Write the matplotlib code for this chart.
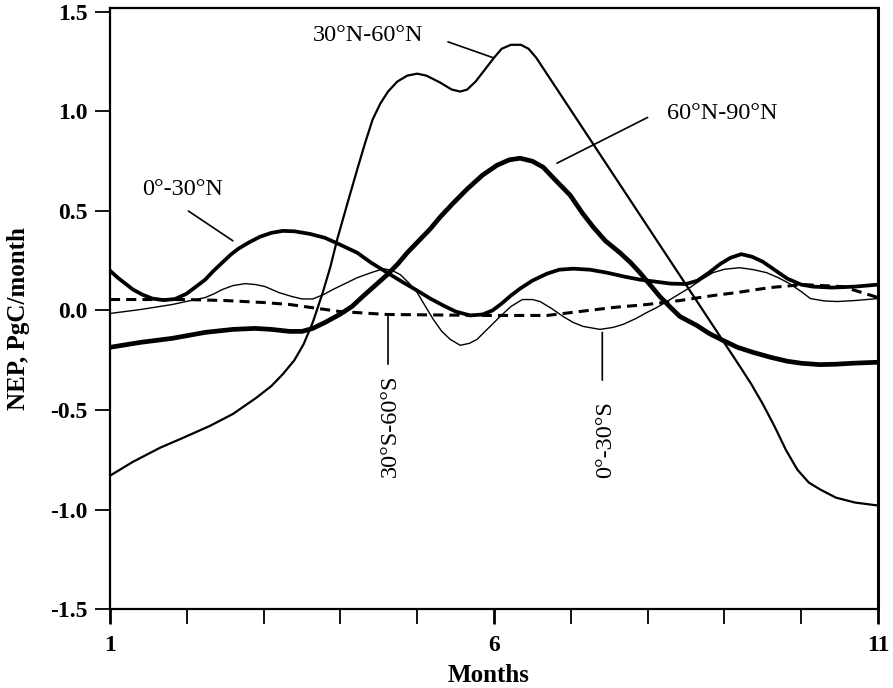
import matplotlib
matplotlib.use("Agg")
import matplotlib.pyplot as plt
from matplotlib.ticker import FixedLocator, FuncFormatter

plt.rcParams['font.family'] = ['Liberation Serif', 'DejaVu Serif']
plt.rcParams['axes.unicode_minus'] = False

# 30N-60N
m_30n60n = [1.0, 1.3, 1.65, 1.95, 2.3, 2.6, 2.9, 3.1, 3.25, 3.4, 3.52, 3.64, 3.77, 3.87,
            3.96, 4.1, 4.22, 4.32, 4.42, 4.52, 4.62, 4.74, 4.87, 5.0, 5.12, 5.3, 5.45,
            5.56, 5.65, 5.76, 5.88, 6.0, 6.1, 6.22, 6.35, 6.45, 6.55, 9.2, 9.35, 9.5,
            9.65, 9.8, 9.95, 10.1, 10.25, 10.45, 10.7, 11.0]
v_30n60n = [-0.83, -0.76, -0.69, -0.64, -0.58, -0.52, -0.44, -0.38, -0.32, -0.25, -0.17,
            -0.06, 0.09, 0.22, 0.36, 0.55, 0.71, 0.84, 0.96, 1.04, 1.10, 1.15, 1.18, 1.19,
            1.18, 1.145, 1.11, 1.10, 1.11, 1.15, 1.21, 1.27, 1.315, 1.335, 1.335, 1.315,
            1.27, -0.28, -0.37, -0.47, -0.58, -0.70, -0.80, -0.865, -0.90, -0.94, -0.965,
            -0.98]

# 60N-90N
m_60n90n = [1.0, 1.4, 1.81, 2.24, 2.6, 2.89, 3.1, 3.34, 3.5, 3.64, 3.8, 3.99, 4.15, 4.29,
            4.45, 4.61, 4.75, 4.87, 5.02, 5.17, 5.3, 5.47, 5.65, 5.85, 6.04, 6.2, 6.34,
            6.5, 6.64, 6.8, 6.99, 7.15, 7.29, 7.45, 7.64, 7.78, 7.9, 8.03, 8.16, 8.3,
            8.42, 8.64, 8.8, 8.98, 9.17, 9.37, 9.6, 9.82, 10.0, 10.24, 10.45, 10.67, 11.0]
v_60n90n = [-0.185, -0.16, -0.14, -0.11, -0.095, -0.09, -0.095, -0.105, -0.105, -0.09,
            -0.06, -0.02, 0.02, 0.07, 0.125, 0.18, 0.235, 0.29, 0.35, 0.41, 0.47, 0.54,
            0.61, 0.68, 0.73, 0.757, 0.765, 0.75, 0.72, 0.655, 0.58, 0.49, 0.42, 0.35,
            0.29, 0.24, 0.19, 0.13, 0.07, 0.015, -0.03, -0.075, -0.115, -0.15, -0.185,
            -0.21, -0.235, -0.255, -0.265, -0.272, -0.27, -0.265, -0.26]

# 0-30N
m_0n30n = [1.0, 1.1, 1.2, 1.3, 1.42, 1.55, 1.7, 1.85, 2.0, 2.12, 2.24, 2.35, 2.46, 2.57,
           2.67, 2.8, 2.95, 3.1, 3.25, 3.4, 3.6, 3.8, 4.0, 4.22, 4.4, 4.61, 4.8, 5.0,
           5.17, 5.34, 5.5, 5.69, 5.85, 5.98, 6.1, 6.22, 6.34, 6.5, 6.69, 6.85, 7.03,
           7.25, 7.47, 7.7, 7.9, 8.1, 8.3, 8.5, 8.65, 8.8, 8.95, 9.08, 9.22, 9.36, 9.5,
           9.65, 9.82, 10.0, 10.15, 10.4, 10.7, 11.0]
v_0n30n = [0.20, 0.165, 0.135, 0.105, 0.08, 0.06, 0.052, 0.058, 0.085, 0.12, 0.155, 0.20,
           0.24, 0.28, 0.31, 0.34, 0.37, 0.39, 0.40, 0.398, 0.385, 0.365, 0.33, 0.29,
           0.24, 0.19, 0.145, 0.10, 0.06, 0.025, -0.005, -0.025, -0.02, 0.0, 0.035,
           0.075, 0.11, 0.15, 0.185, 0.205, 0.21, 0.205, 0.19, 0.17, 0.155, 0.145, 0.135,
           0.133, 0.15, 0.19, 0.235, 0.265, 0.283, 0.27, 0.245, 0.205, 0.16, 0.13, 0.12,
           0.115, 0.12, 0.13]

# 30S-60S (dashed)
m_30s60s = [1.0, 2.0, 2.5, 3.0, 3.34, 3.99, 4.6, 5.9, 6.69, 7.12, 7.55, 7.99, 8.42,
            8.85, 9.16, 9.59, 10.02, 10.54, 11.0]
v_30s60s = [0.055, 0.055, 0.05, 0.04, 0.03, -0.005, -0.02, -0.025, -0.025, -0.005,
            0.015, 0.03, 0.05, 0.075, 0.09, 0.115, 0.13, 0.12, 0.065]

# 0-30S
m_0s30s = [1.0, 1.4, 1.81, 2.05, 2.24, 2.36, 2.46, 2.6, 2.76, 2.9, 3.02, 3.2, 3.37, 3.5,
           3.64, 3.78, 3.9, 4.06, 4.22, 4.4, 4.56, 4.68, 4.78, 4.9, 5.0, 5.1, 5.21, 5.32,
           5.43, 5.56, 5.68, 5.78, 5.87, 5.95, 6.08, 6.22, 6.37, 6.5, 6.6, 6.75, 6.9,
           7.03, 7.16, 7.38, 7.55, 7.68, 7.85, 7.99, 8.12, 8.25, 8.4, 8.55, 8.7, 8.85,
           9.0, 9.2, 9.38, 9.55, 9.7, 9.85, 10.0, 10.12, 10.3, 10.47, 10.7, 11.0]
v_0s30s = [-0.015, 0.005, 0.03, 0.05, 0.065, 0.085, 0.105, 0.125, 0.135, 0.13, 0.12,
           0.09, 0.07, 0.058, 0.058, 0.08, 0.105, 0.135, 0.165, 0.19, 0.21, 0.20, 0.18,
           0.135, 0.09, 0.025, -0.045, -0.105, -0.145, -0.175, -0.165, -0.145, -0.11,
           -0.08, -0.03, 0.02, 0.055, 0.055, 0.045, 0.01, -0.03, -0.06, -0.08, -0.095,
           -0.085, -0.07, -0.04, -0.01, 0.015, 0.045, 0.08, 0.115, 0.155, 0.19, 0.207,
           0.215, 0.205, 0.19, 0.165, 0.135, 0.095, 0.06, 0.048, 0.045, 0.05, 0.06]

fig = plt.figure(figsize=(8.93, 6.88), dpi=100)
ax = fig.add_axes([0.1232, 0.1148, 0.86, 0.8736])

ax.plot(m_30n60n, v_30n60n, color='black', lw=1.6, solid_joinstyle='round')
ax.plot(m_60n90n, v_60n90n, color='black', lw=3.4, solid_joinstyle='round')
ax.plot(m_0n30n, v_0n30n, color='black', lw=2.7, solid_joinstyle='round')
ax.plot(m_30s60s, v_30s60s, color='black', lw=2.2, dashes=(3.3, 2.0))
ax.plot(m_0s30s, v_0s30s, color='black', lw=1.0, solid_joinstyle='round')

# labels with pointer lines
lab_size = 17.5
ln = dict(arrowstyle='-', color='black', lw=1.2, shrinkA=0, shrinkB=0)
ax.text(1.95, 0.61, '0°-30°N', fontsize=lab_size, ha='center', va='center')
ax.annotate('', xy=(2.60, 0.35), xytext=(2.02, 0.50), arrowprops=ln)
ax.text(4.36, 1.38, '30°N-60°N', fontsize=lab_size, ha='center', va='center')
ax.annotate('', xy=(5.99, 1.27), xytext=(5.40, 1.35), arrowprops=ln)
ax.text(8.97, 0.99, '60°N-90°N', fontsize=lab_size, ha='center', va='center')
ax.annotate('', xy=(6.82, 0.74), xytext=(8.0, 0.97), arrowprops=ln)
ax.text(4.65, -0.58, '30°S-60°S', fontsize=lab_size, ha='center', va='center', rotation=90)
ax.annotate('', xy=(4.62, -0.03), xytext=(4.62, -0.27), arrowprops=ln)
ax.text(7.45, -0.65, '0°-30°S', fontsize=lab_size, ha='center', va='center', rotation=90)
ax.annotate('', xy=(7.41, -0.11), xytext=(7.41, -0.35), arrowprops=ln)

ax.set_xlim(1, 11)
ax.set_ylim(-1.5, 1.52)

ax.xaxis.set_major_locator(FixedLocator([1, 6, 11]))
ax.xaxis.set_minor_locator(FixedLocator([2, 3, 4, 5, 7, 8, 9, 10]))
ax.yaxis.set_major_locator(FixedLocator([-1.5, -1.0, -0.5, 0.0, 0.5, 1.0, 1.5]))
ax.yaxis.set_major_formatter(FuncFormatter(lambda v, p: '%.1f' % v))

ax.tick_params(axis='x', which='both', direction='out', length=11, width=1.3,
               labelsize=17, pad=8)
ax.tick_params(axis='x', which='major', width=2)
ax.tick_params(axis='y', which='major', direction='out', length=11, width=1.3,
               labelsize=17, pad=5)
for t in ax.get_xticklabels() + ax.get_yticklabels():
    t.set_fontweight('bold')

for s in ax.spines.values():
    s.set_linewidth(1.6)
ax.spines['right'].set_linewidth(2.2)

ax.set_xlabel('Months', fontsize=18, fontweight='bold')
ax.set_ylabel('NEP, PgC/month', fontsize=18, fontweight='bold')
ax.xaxis.set_label_coords(0.493, -0.092)
ax.yaxis.set_label_coords(-0.104, 0.484)

fig.savefig('out.png', dpi=100)
